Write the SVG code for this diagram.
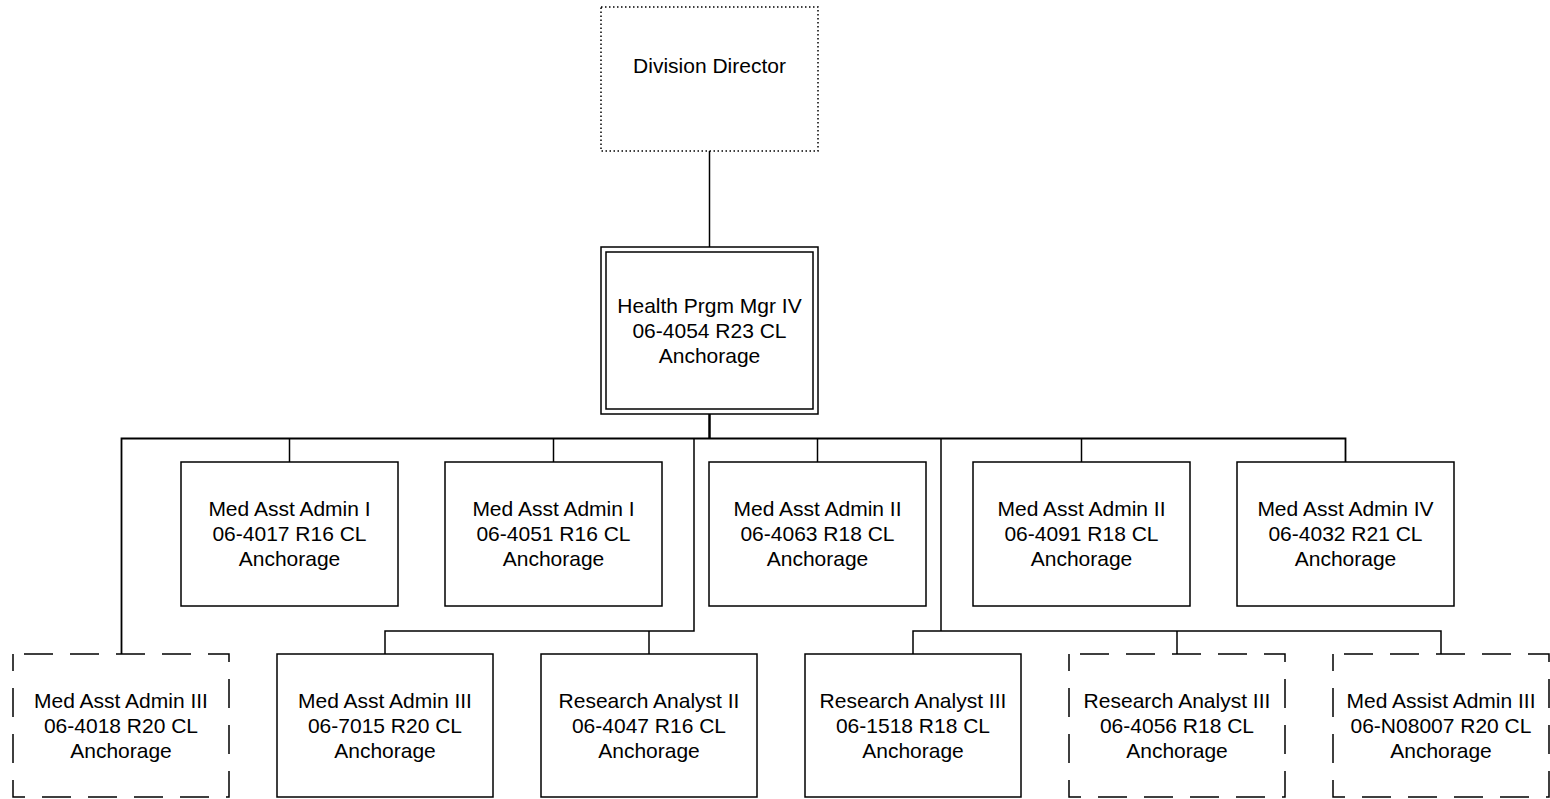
<svg xmlns="http://www.w3.org/2000/svg" width="1550" height="799" viewBox="0 0 1550 799">
<style>
  .box { fill: #ffffff; stroke: #000000; stroke-width: 1.5; }
  .dash { stroke-dasharray: 29 17; stroke-dashoffset: 35; }
  .dot { stroke-dasharray: 1.5 2.5; }
  .t { font-family: "Liberation Sans", Arial, sans-serif; font-size: 21px; fill: #000000; text-anchor: middle; }
  .c { fill: none; stroke: #000000; stroke-width: 1.5; }
</style>
<rect width="1550" height="799" fill="#ffffff"/>
<g id="connectors">
  <line class="c" x1="709.5" y1="151" x2="709.5" y2="247"/>
  <line class="c" x1="709.5" y1="414" x2="709.5" y2="438.5" style="stroke-width:2.5"/>
  <polyline class="c" points="121.5,654 121.5,438.5 1345.5,438.5 1345.5,462" style="stroke-width:1.8"/>
  <line class="c" x1="289.5" y1="438.5" x2="289.5" y2="462"/>
  <line class="c" x1="553.5" y1="438.5" x2="553.5" y2="462"/>
  <line class="c" x1="817.5" y1="438.5" x2="817.5" y2="462"/>
  <line class="c" x1="1081.5" y1="438.5" x2="1081.5" y2="462"/>
  <polyline class="c" points="694,438.5 694,631 385,631 385,654"/>
  <line class="c" x1="649" y1="631" x2="649" y2="654"/>
  <line class="c" x1="941" y1="438.5" x2="941" y2="631"/>
  <polyline class="c" points="913,654 913,631 1441,631 1441,654"/>
  <line class="c" x1="1177" y1="631" x2="1177" y2="654"/>
</g>
<g id="division-director">
  <rect class="box dot" x="601" y="7" width="217" height="144"/>
  <text class="t" x="709.5" y="72.5">Division Director</text>
</g>
<g id="health-prgm-mgr-iv">
  <rect class="box" x="601" y="247" width="217" height="167"/>
  <rect class="box" x="606" y="252" width="207" height="157"/>
  <text class="t" x="709.5" y="312.5">Health Prgm Mgr IV</text>
  <text class="t" x="709.5" y="337.5">06-4054 R23 CL</text>
  <text class="t" x="709.5" y="362.5">Anchorage</text>
</g>
<g id="n-4017">
  <rect class="box" x="181" y="462" width="217" height="144"/>
  <text class="t" x="289.5" y="516">Med Asst Admin I</text>
  <text class="t" x="289.5" y="541">06-4017 R16 CL</text>
  <text class="t" x="289.5" y="566">Anchorage</text>
</g>
<g id="n-4051">
  <rect class="box" x="445" y="462" width="217" height="144"/>
  <text class="t" x="553.5" y="516">Med Asst Admin I</text>
  <text class="t" x="553.5" y="541">06-4051 R16 CL</text>
  <text class="t" x="553.5" y="566">Anchorage</text>
</g>
<g id="n-4063">
  <rect class="box" x="709" y="462" width="217" height="144"/>
  <text class="t" x="817.5" y="516">Med Asst Admin II</text>
  <text class="t" x="817.5" y="541">06-4063 R18 CL</text>
  <text class="t" x="817.5" y="566">Anchorage</text>
</g>
<g id="n-4091">
  <rect class="box" x="973" y="462" width="217" height="144"/>
  <text class="t" x="1081.5" y="516">Med Asst Admin II</text>
  <text class="t" x="1081.5" y="541">06-4091 R18 CL</text>
  <text class="t" x="1081.5" y="566">Anchorage</text>
</g>
<g id="n-4032">
  <rect class="box" x="1237" y="462" width="217" height="144"/>
  <text class="t" x="1345.5" y="516">Med Asst Admin IV</text>
  <text class="t" x="1345.5" y="541">06-4032 R21 CL</text>
  <text class="t" x="1345.5" y="566">Anchorage</text>
</g>
<g id="n-4018">
  <rect class="box dash" x="13" y="654" width="216" height="143"/>
  <text class="t" x="121" y="708">Med Asst Admin III</text>
  <text class="t" x="121" y="733">06-4018 R20 CL</text>
  <text class="t" x="121" y="758">Anchorage</text>
</g>
<g id="n-7015">
  <rect class="box" x="277" y="654" width="216" height="143"/>
  <text class="t" x="385" y="708">Med Asst Admin III</text>
  <text class="t" x="385" y="733">06-7015 R20 CL</text>
  <text class="t" x="385" y="758">Anchorage</text>
</g>
<g id="n-4047">
  <rect class="box" x="541" y="654" width="216" height="143"/>
  <text class="t" x="649" y="708">Research Analyst II</text>
  <text class="t" x="649" y="733">06-4047 R16 CL</text>
  <text class="t" x="649" y="758">Anchorage</text>
</g>
<g id="n-1518">
  <rect class="box" x="805" y="654" width="216" height="143"/>
  <text class="t" x="913" y="708">Research Analyst III</text>
  <text class="t" x="913" y="733">06-1518 R18 CL</text>
  <text class="t" x="913" y="758">Anchorage</text>
</g>
<g id="n-4056">
  <rect class="box dash" x="1069" y="654" width="216" height="143"/>
  <text class="t" x="1177" y="708">Research Analyst III</text>
  <text class="t" x="1177" y="733">06-4056 R18 CL</text>
  <text class="t" x="1177" y="758">Anchorage</text>
</g>
<g id="n-N08007">
  <rect class="box dash" x="1333" y="654" width="216" height="143"/>
  <text class="t" x="1441" y="708">Med Assist Admin III</text>
  <text class="t" x="1441" y="733">06-N08007 R20 CL</text>
  <text class="t" x="1441" y="758">Anchorage</text>
</g>
</svg>
